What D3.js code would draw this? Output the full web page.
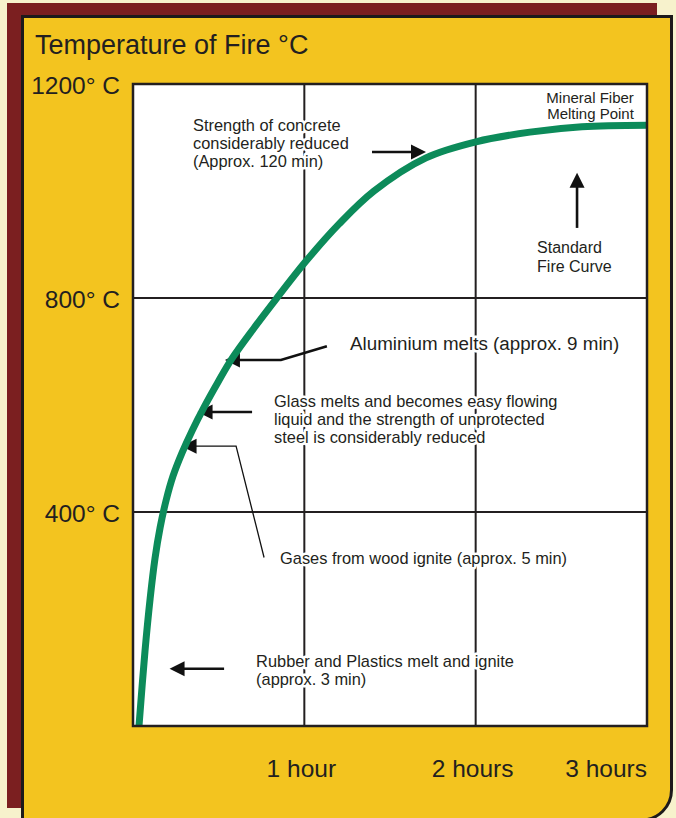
<!DOCTYPE html>
<html><head><meta charset="utf-8">
<script src="https://cdn.jsdelivr.net/npm/d3@7"></script>
<style>
body{margin:0;background:#f7f2cc;}
svg{display:block;}
text{font-family:"Liberation Sans",Arial,Helvetica,sans-serif;fill:#231f20;}
</style>
</head><body>
<svg id="chart" width="676" height="818"></svg>
<script>
// ---- data ----
const timeMinutes   = [2.1, 4.2, 6.0, 7.7, 9.5, 11.6, 14.0, 17.2, 20.7, 24.9, 29.8, 34.7, 42.4, 50.1, 60.6, 72.1, 84.4, 102.6, 120.1, 139.0, 157.2, 180.0];
const temperatureC  = [0, 140, 238, 313, 371, 422, 467, 511, 552, 596, 643, 687, 744, 798, 869, 938, 1000, 1062, 1092, 1110, 1120, 1123];

const yTickValues = [1200, 800, 400];
const yTickLabels = ["1200° C", "800° C", "400° C"];
const xTickValues = [60, 120, 180];
const xTickLabels = ["1 hour", "2 hours", "3 hours"];

const titleText = "Temperature of Fire °C";

// annotation texts, anchored in data units (minutes, °C)
const noteLines = [
  ["Strength of concrete", "considerably reduced", "(Approx. 120 min)"],
  ["Mineral Fiber", "Melting Point"],
  ["Standard", "Fire Curve"],
  ["Aluminium melts (approx. 9 min)"],
  ["Glass melts and becomes easy flowing", "liquid and the strength of unprotected", "steel is considerably reduced"],
  ["Gases from wood ignite (approx. 5 min)"],
  ["Rubber and Plastics melt and ignite", "(approx. 3 min)"]
];
const noteMinutes = [21.0, 175.4, 141.5, 76.0, 49.4, 51.5, 43.1];
const noteTempC   = [1112, 1164, 884, 703, 596, 303, 110];

// arrows: polyline in data units, last point is the tip
const arrowPoints = [
  [[83.7, 1073], [102.6, 1073]],
  [[155.5, 931], [155.5, 1034]],
  [[67.9, 710], [51.8, 684], [32.2, 684]],
  [[41.7, 587], [22.6, 587]],
  [[45.9, 315], [36.1, 523], [17.0, 523]],
  [[31.9, 107], [12.8, 107]]
];
const arrowThin = [false, false, false, false, true, false];

// ---- layout ----
const plot = {left: 133, right: 647, top: 84, bottom: 726};
const svg = d3.select("#chart");

const x = d3.scaleLinear().domain([0, 180]).range([plot.left, plot.right]);
const y = d3.scaleLinear().domain([0, 1200]).range([plot.bottom, plot.top]);

// background shadow + yellow panel
svg.append("rect").attr("x", 7).attr("y", 3).attr("width", 650).attr("height", 805).attr("fill", "#7b1f20");
svg.append("path")
  .attr("d", "M22.5,16.5 H671.5 V790 A30,30 0 0 1 641.5,820 H22.5 Z")
  .attr("fill", "#f3c41f").attr("stroke", "#1d1a1a").attr("stroke-width", 3);

// title
svg.append("text").attr("x", 35).attr("y", 54).attr("font-size", 27).text(titleText);

// plot area
svg.append("rect").attr("x", plot.left).attr("y", plot.top)
  .attr("width", plot.right - plot.left).attr("height", plot.bottom - plot.top).attr("fill", "#ffffff");

const grid = svg.append("g").attr("stroke", "#231f20").attr("stroke-width", 2);
grid.selectAll("line.v").data(xTickValues.filter(v => v < 180)).join("line")
  .attr("x1", d => x(d)).attr("x2", d => x(d)).attr("y1", plot.top).attr("y2", plot.bottom);
grid.selectAll("line.h").data(yTickValues.filter(v => v < 1200)).join("line")
  .attr("x1", plot.left).attr("x2", plot.right).attr("y1", d => y(d)).attr("y2", d => y(d));

// axis labels
svg.append("g").selectAll("text").data(yTickValues).join("text")
  .attr("x", plot.left - 13).attr("y", d => y(d) + 10)
  .attr("text-anchor", "end").attr("font-size", 24.5)
  .text((d, i) => yTickLabels[i]);

svg.append("g").selectAll("text").data(xTickValues).join("text")
  .attr("x", d => d === 180 ? x(d) : x(d) - 3).attr("y", 777)
  .attr("text-anchor", d => d === 180 ? "end" : "middle").attr("font-size", 24.5)
  .text((d, i) => xTickLabels[i]);

// annotation text with white halo (breaks the grid lines like the original)
const noteSize = [16.4, 15, 16, 18.8, 16.4, 16.4, 16.4];
const noteAnchor = ["start", "end", "start", "start", "start", "start", "start"];
const noteLead = [18, 15.5, 18.5, 18, 18, 18, 18];
const notes = svg.append("g");
noteLines.forEach((lines, i) => {
  const t = notes.append("text")
    .attr("x", x(noteMinutes[i])).attr("y", y(noteTempC[i]))
    .attr("font-size", noteSize[i]).attr("text-anchor", noteAnchor[i])
    .attr("stroke", "#ffffff").attr("stroke-width", 5).attr("stroke-linejoin", "round")
    .style("paint-order", "stroke");
  lines.forEach((ln, j) => {
    t.append("tspan").attr("x", x(noteMinutes[i])).attr("dy", j === 0 ? 0 : noteLead[i]).text(ln);
  });
});

// arrows
const arrows = svg.append("g");
arrowPoints.forEach((pts, i) => {
  const px = pts.map(p => [x(p[0]), y(p[1])]);
  const tip = px[px.length - 1], prev = px[px.length - 2];
  const dx = tip[0] - prev[0], dy = tip[1] - prev[1];
  const len = Math.hypot(dx, dy), ux = dx / len, uy = dy / len;
  const headL = 15, headW = 7.5;
  const base = [tip[0] - ux * headL, tip[1] - uy * headL];
  const shaft = px.slice(0, -1).concat([[base[0] + ux * 2, base[1] + uy * 2]]);
  arrows.append("path").attr("d", d3.line()(shaft))
    .attr("fill", "none").attr("stroke", "#111").attr("stroke-width", arrowThin[i] ? 1.3 : 2.6);
  arrows.append("path")
    .attr("d", d3.line()([tip, [base[0] - uy * headW, base[1] + ux * headW], [base[0] + uy * headW, base[1] - ux * headW]]) + "Z")
    .attr("fill", "#111");
});

// fire curve
const curveData = timeMinutes.map((t, i) => [t, temperatureC[i]]);
svg.append("defs").append("clipPath").attr("id", "clip").append("rect")
  .attr("x", plot.left).attr("y", plot.top).attr("width", plot.right - plot.left).attr("height", plot.bottom - plot.top);
svg.append("path").datum(curveData)
  .attr("clip-path", "url(#clip)")
  .attr("d", d3.line().x(d => x(d[0])).y(d => y(d[1])).curve(d3.curveCatmullRom.alpha(0.5)))
  .attr("fill", "none").attr("stroke", "#0c8b5a").attr("stroke-width", 7);

// plot frame
svg.append("rect").attr("x", plot.left).attr("y", plot.top)
  .attr("width", plot.right - plot.left).attr("height", plot.bottom - plot.top)
  .attr("fill", "none").attr("stroke", "#231f20").attr("stroke-width", 2.5);
</script>
</body></html>
